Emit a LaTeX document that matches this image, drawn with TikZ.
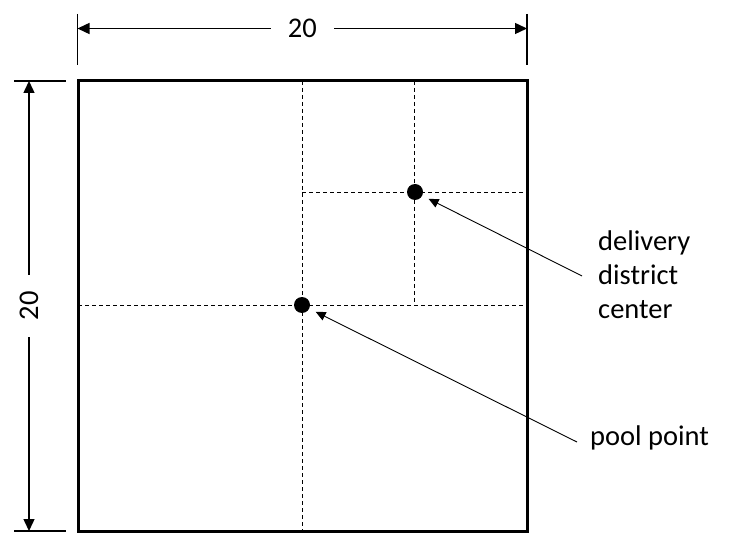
\documentclass[tikz,border=0pt]{standalone}
\usepackage{fontspec}
\setmainfont{Carlito}
\usetikzlibrary{arrows.meta}
\begin{document}
\begin{tikzpicture}[x=1pt,y=-1pt,
  sq/.style={line width=3pt},
  gridline/.style={dash pattern=on 4pt off 3pt, line width=0.8pt},
  dimline/.style={line width=1.4pt, {Triangle[length=12pt,width=11pt]}-{Triangle[length=12pt,width=11pt]}},
  extline/.style={line width=1.4pt},
  leader/.style={line width=0.9pt, -{Triangle[length=10pt,width=9pt]}, shorten >=7pt},
  lbl/.style={font=\fontsize{28.5}{33}\selectfont, inner sep=0pt},
  dimlbl/.style={lbl, fill=white, inner xsep=17pt, inner ysep=0pt},
  dotnode/.style={circle, fill=black, minimum size=16pt, inner sep=0pt}]
\useasboundingbox (0,0) rectangle (752,545);
% square corners
\coordinate (tl) at (78,81);
\coordinate (br) at (527,531);
% grid lines
\coordinate (v1t) at (302,81);
\coordinate (v1b) at (302,531);
\coordinate (h1l) at (78,305);
\coordinate (h1r) at (527,305);
\coordinate (v2t) at (414,81);
\coordinate (v2b) at (414,305);
\coordinate (h2l) at (302,192);
\coordinate (h2r) at (527,192);
\draw[gridline] (v1t) -- (v1b);
\draw[gridline] (h1l) -- (h1r);
\draw[gridline] (v2t) -- (v2b);
\draw[gridline] (h2l) -- (h2r);
\draw[sq] (tl) rectangle (br);
% dots
\node[dotnode] (pp) at (302,305) {};
\node[dotnode] (dc) at (415,192) {};
% top dimension
\coordinate (et1a) at (77.5,14);
\coordinate (et1b) at (77.5,65);
\coordinate (et2a) at (527,14);
\coordinate (et2b) at (527,65);
\draw[extline] (et1a) -- (et1b);
\draw[extline] (et2a) -- (et2b);
\coordinate (dt1) at (77.5,28.5);
\coordinate (dt2) at (527,28.5);
\draw[dimline] (dt1) -- node[dimlbl] (toplbl) {20} (dt2);
% left dimension
\coordinate (el1a) at (14,81);
\coordinate (el1b) at (66,81);
\coordinate (el2a) at (14,531);
\coordinate (el2b) at (66,531);
\draw[extline] (el1a) -- (el1b);
\draw[extline] (el2a) -- (el2b);
\coordinate (dl1) at (29,81);
\coordinate (dl2) at (29,531);
\draw[dimline] (dl1) -- node[dimlbl, rotate=90] (leftlbl) {20} (dl2);
% labels
\node[lbl, anchor=base west] (d1) at (598,251) {delivery};
\node[lbl, anchor=base west] (d2) at (598,284.5) {district};
\node[lbl, anchor=base west] (d3) at (598,318) {center};
\node[lbl, anchor=base west] (pl) at (590,445) {pool point};
% leaders
\coordinate (dtail) at (582,276);
\coordinate (ptail) at (577,442);
\draw[leader] (dtail) -- (dc);
\draw[leader] (ptail) -- (pp);
\end{tikzpicture}
\end{document}
